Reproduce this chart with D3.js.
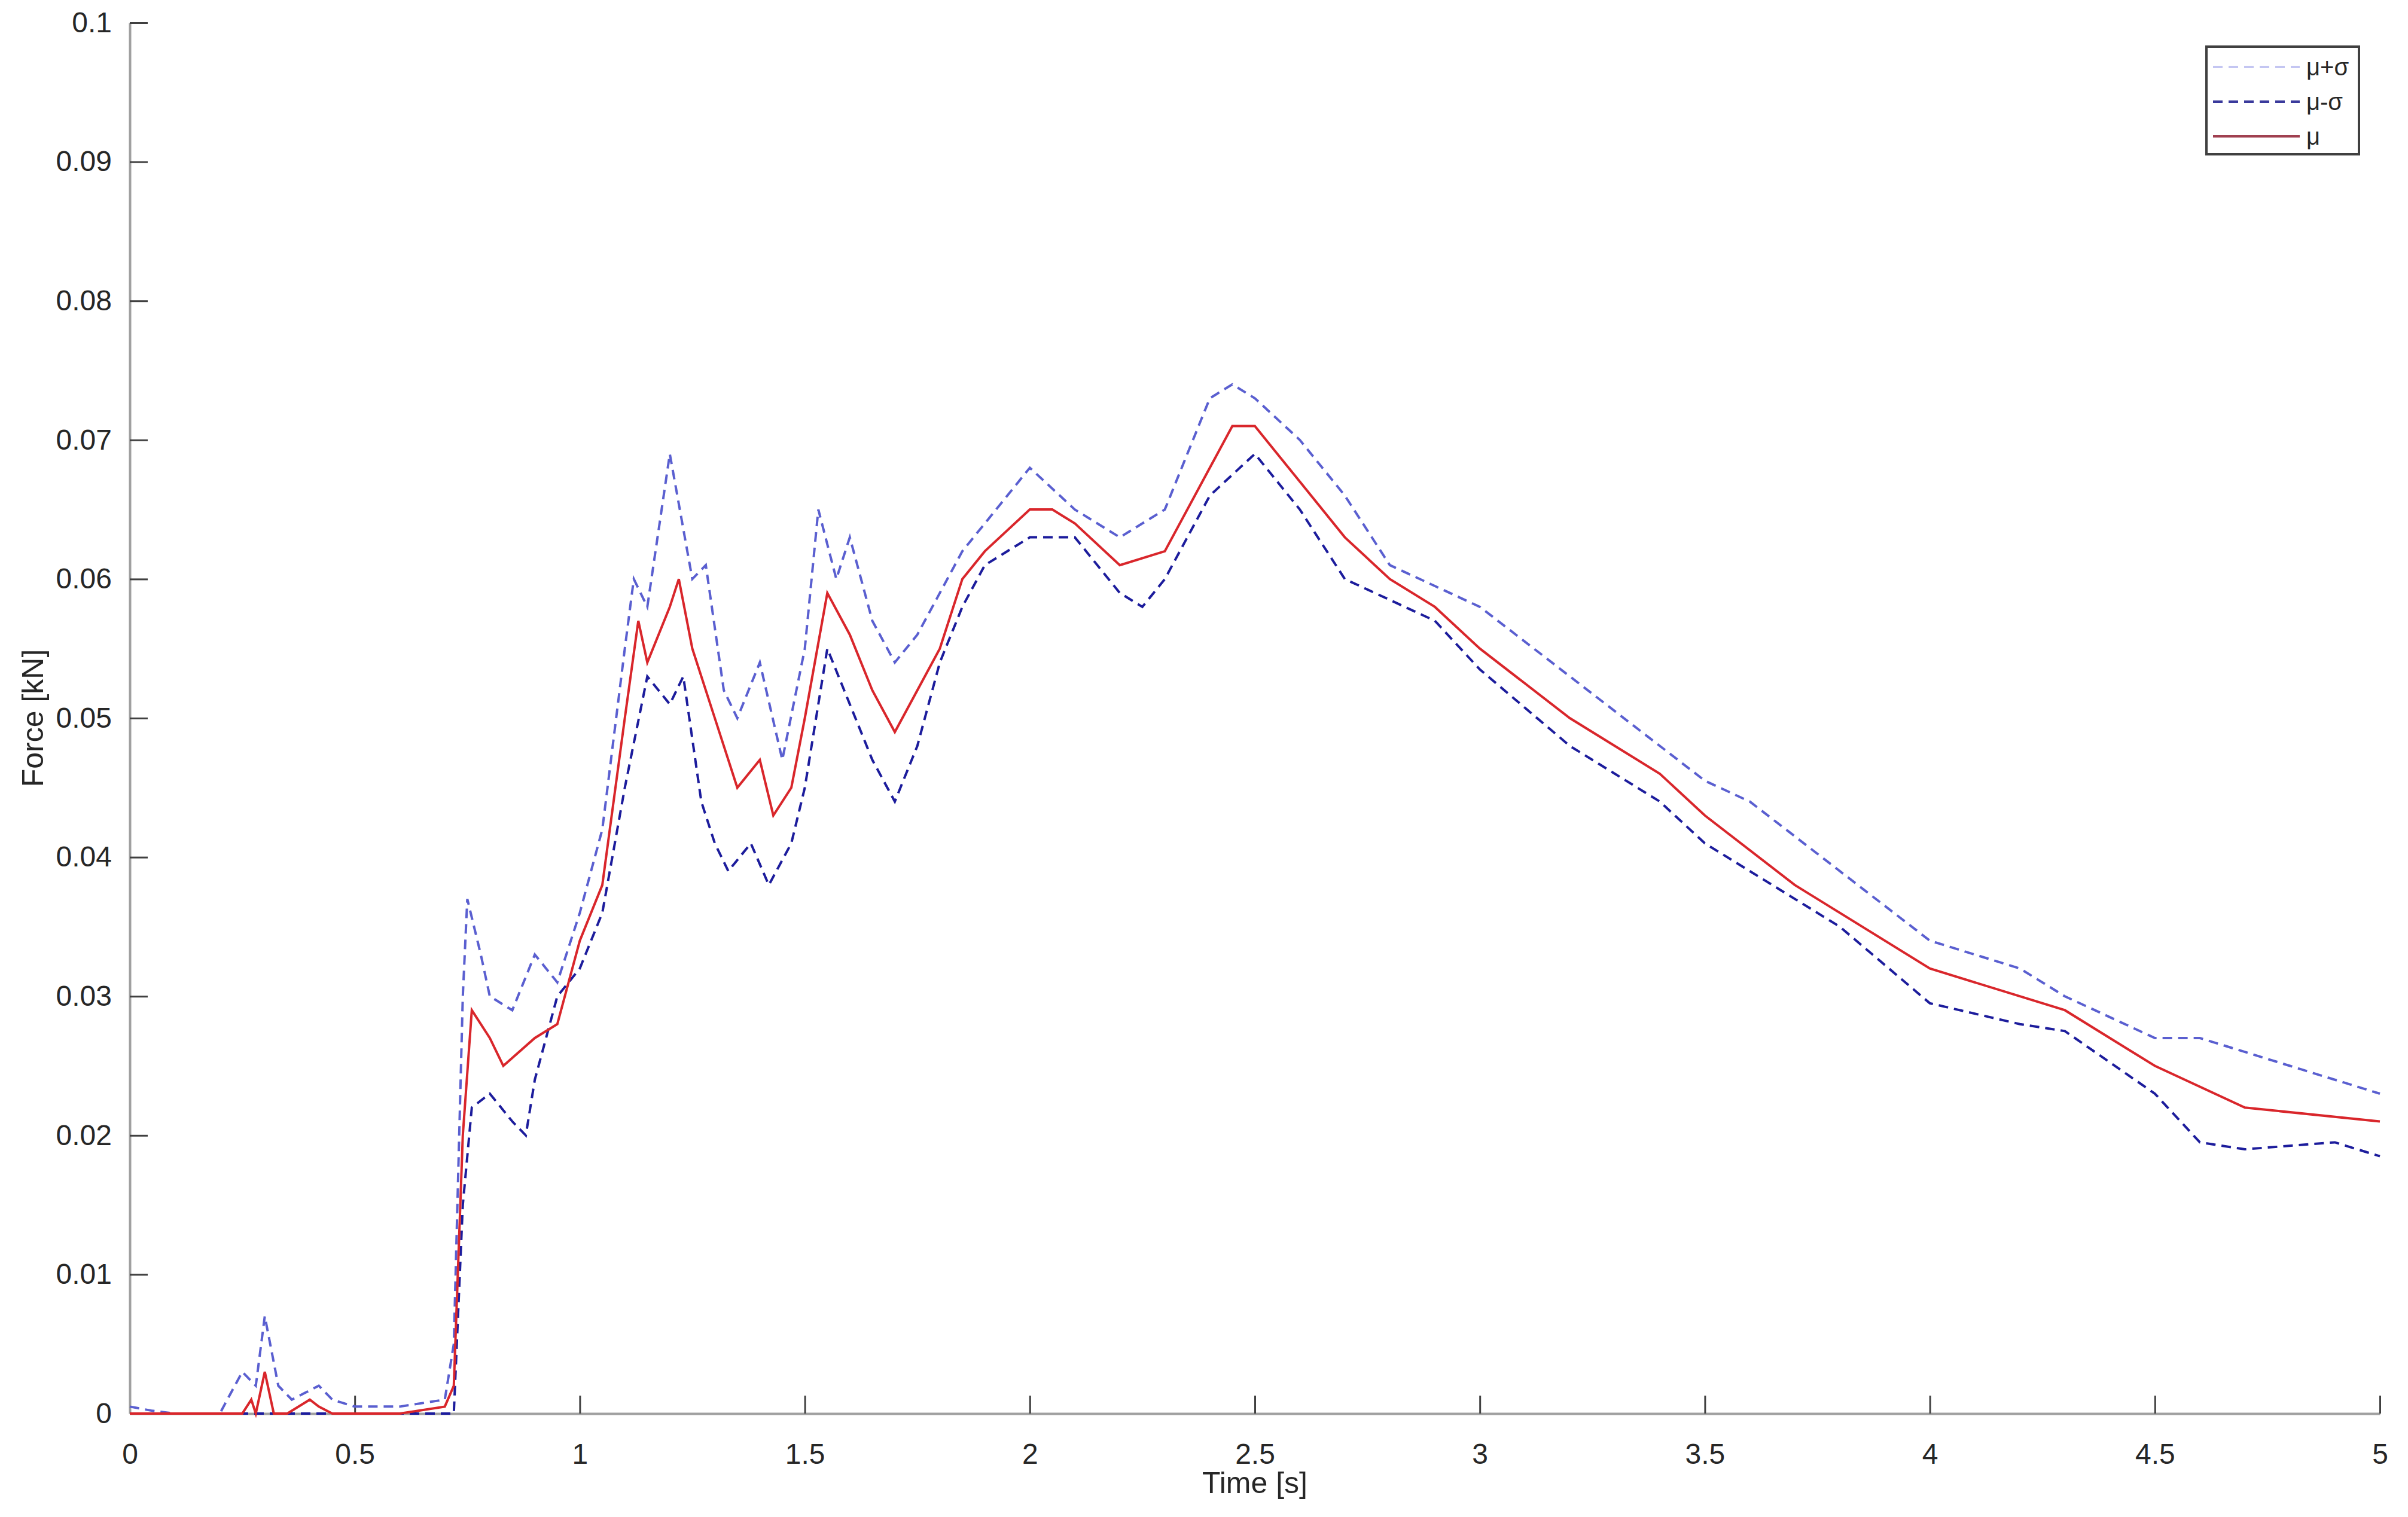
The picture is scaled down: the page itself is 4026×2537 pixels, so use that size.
<!DOCTYPE html>
<html><head><meta charset="utf-8">
<script src="https://cdn.jsdelivr.net/npm/d3@7"></script>
<style>body{margin:0;background:#fff}svg{display:block}text{font-family:"Liberation Sans",Arial,sans-serif;fill:#262626}</style>
</head><body>
<script>
const meanT = [0,0.05,0.1,0.2,0.25,0.27,0.28,0.3,0.32,0.35,0.4,0.42,0.45,0.5,0.6,0.7,0.72,0.74,0.76,0.8,0.83,0.9,0.95,1.0,1.05,1.1,1.13,1.15,1.2,1.22,1.25,1.3,1.35,1.4,1.43,1.47,1.5,1.55,1.6,1.65,1.7,1.75,1.8,1.85,1.9,2.0,2.05,2.1,2.2,2.3,2.4,2.45,2.5,2.6,2.7,2.8,2.9,3.0,3.2,3.4,3.5,3.7,3.8,4.0,4.2,4.3,4.5,4.7,5.0];
const meanV = [0,0,0,0,0,0.001,0,0.003,0,0,0.001,0.0005,0,0,0,0.0005,0.002,0.02,0.029,0.027,0.025,0.027,0.028,0.034,0.038,0.05,0.057,0.054,0.058,0.06,0.055,0.05,0.045,0.047,0.043,0.045,0.05,0.059,0.056,0.052,0.049,0.052,0.055,0.06,0.062,0.065,0.065,0.064,0.061,0.062,0.068,0.071,0.071,0.067,0.063,0.06,0.058,0.055,0.05,0.046,0.043,0.038,0.036,0.032,0.030,0.029,0.025,0.022,0.021];
const upperT = [0,0.05,0.1,0.2,0.25,0.28,0.3,0.33,0.36,0.42,0.45,0.5,0.6,0.7,0.72,0.74,0.75,0.78,0.8,0.85,0.9,0.95,1.0,1.05,1.1,1.12,1.15,1.2,1.25,1.28,1.32,1.35,1.4,1.45,1.5,1.53,1.57,1.6,1.65,1.7,1.75,1.8,1.85,1.9,2.0,2.1,2.2,2.3,2.4,2.45,2.5,2.6,2.7,2.8,2.9,3.0,3.2,3.4,3.5,3.6,3.8,4.0,4.2,4.3,4.5,4.6,4.8,5.0];
const upperV = [0.0005,0.0002,0,0,0.003,0.002,0.007,0.002,0.001,0.002,0.001,0.0005,0.0005,0.001,0.005,0.03,0.037,0.033,0.03,0.029,0.033,0.031,0.036,0.042,0.055,0.06,0.058,0.069,0.06,0.061,0.052,0.05,0.054,0.047,0.055,0.065,0.06,0.063,0.057,0.054,0.056,0.059,0.062,0.064,0.068,0.065,0.063,0.065,0.073,0.074,0.073,0.07,0.066,0.061,0.0595,0.058,0.053,0.048,0.0455,0.044,0.039,0.034,0.032,0.030,0.027,0.027,0.025,0.023];
const lowerT = [0,0.1,0.2,0.25,0.3,0.35,0.5,0.7,0.72,0.74,0.76,0.8,0.85,0.88,0.9,0.95,1.0,1.05,1.1,1.15,1.2,1.23,1.27,1.3,1.33,1.38,1.42,1.47,1.5,1.55,1.6,1.65,1.7,1.75,1.8,1.85,1.9,2.0,2.1,2.2,2.25,2.3,2.4,2.5,2.6,2.7,2.8,2.9,3.0,3.2,3.4,3.5,3.7,3.8,4.0,4.2,4.3,4.5,4.6,4.7,4.9,5.0];
const lowerV = [0,0,0,0,0,0,0,0,0,0.015,0.022,0.023,0.021,0.02,0.024,0.03,0.032,0.036,0.045,0.053,0.051,0.053,0.044,0.041,0.039,0.041,0.038,0.041,0.045,0.055,0.051,0.047,0.044,0.048,0.054,0.058,0.061,0.063,0.063,0.059,0.058,0.06,0.066,0.069,0.065,0.06,0.0585,0.057,0.0535,0.048,0.044,0.041,0.037,0.035,0.0295,0.028,0.0275,0.023,0.0195,0.019,0.0195,0.0185];
const xTicks = [0,0.5,1,1.5,2,2.5,3,3.5,4,4.5,5];
const yTicks = [0,0.01,0.02,0.03,0.04,0.05,0.06,0.07,0.08,0.09,0.1];
const legendLabels = ["μ+σ","μ-σ","μ"];

const W=4026,H=2537;
const svg=d3.select("body").append("svg").attr("width",W).attr("height",H);
const x=d3.scaleLinear().domain([0,5]).range([217,3979]);
const y=d3.scaleLinear().domain([0,0.1]).range([2364,38]);

const gx=svg.append("g").attr("transform","translate(0,2364)")
 .call(d3.axisBottom(x).tickValues(xTicks).tickFormat(d=>String(d)).tickSizeInner(-30).tickSizeOuter(0).tickPadding(50));
const gy=svg.append("g").attr("transform","translate(217,0)")
 .call(d3.axisLeft(y).tickValues(yTicks).tickFormat(d=>String(+d.toFixed(2))).tickSizeInner(-30).tickSizeOuter(0).tickPadding(30));
[gx,gy].forEach(g=>{g.selectAll("path,line").attr("stroke","#a0a0a0").attr("stroke-width",4);
 g.selectAll("line").attr("stroke","#404040").attr("stroke-width",3);
 g.selectAll("text").attr("font-size",48).attr("fill","#262626");});

const line=(T,V)=>d3.line().x((d,i)=>x(T[i])).y(d=>y(d))(V);
svg.append("path").attr("d",line(upperT,upperV)).attr("fill","none").attr("stroke","#5a5fd0").attr("stroke-width",4).attr("stroke-dasharray","16,10");
svg.append("path").attr("d",line(lowerT,lowerV)).attr("fill","none").attr("stroke","#1c1c9c").attr("stroke-width",4).attr("stroke-dasharray","16,10");
svg.append("path").attr("d",line(meanT,meanV)).attr("fill","none").attr("stroke","#d9262b").attr("stroke-width",4);

svg.append("text").attr("x",(217+3979)/2).attr("y",2497).attr("text-anchor","middle").attr("font-size",50).text("Time [s]");
svg.append("text").attr("transform","translate(72,1201) rotate(-90)").attr("text-anchor","middle").attr("font-size",50).text("Force [kN]");

const lg=svg.append("g");
lg.append("rect").attr("x",3689).attr("y",78).attr("width",255).attr("height",180).attr("fill","#fff").attr("stroke","#404040").attr("stroke-width",4);
const lc=[["#c4c6f2","16,10"],["#3a3a9c","16,10"],["#a04050",null]];
legendLabels.forEach((l,i)=>{const yy=112+i*58;
 lg.append("line").attr("x1",3700).attr("x2",3845).attr("y1",yy).attr("y2",yy).attr("stroke",lc[i][0]).attr("stroke-width",4).attr("stroke-dasharray",lc[i][1]);
 lg.append("text").attr("x",3856).attr("y",yy+14).attr("font-size",40).attr("fill","#000").text(l);});
</script></body></html>
